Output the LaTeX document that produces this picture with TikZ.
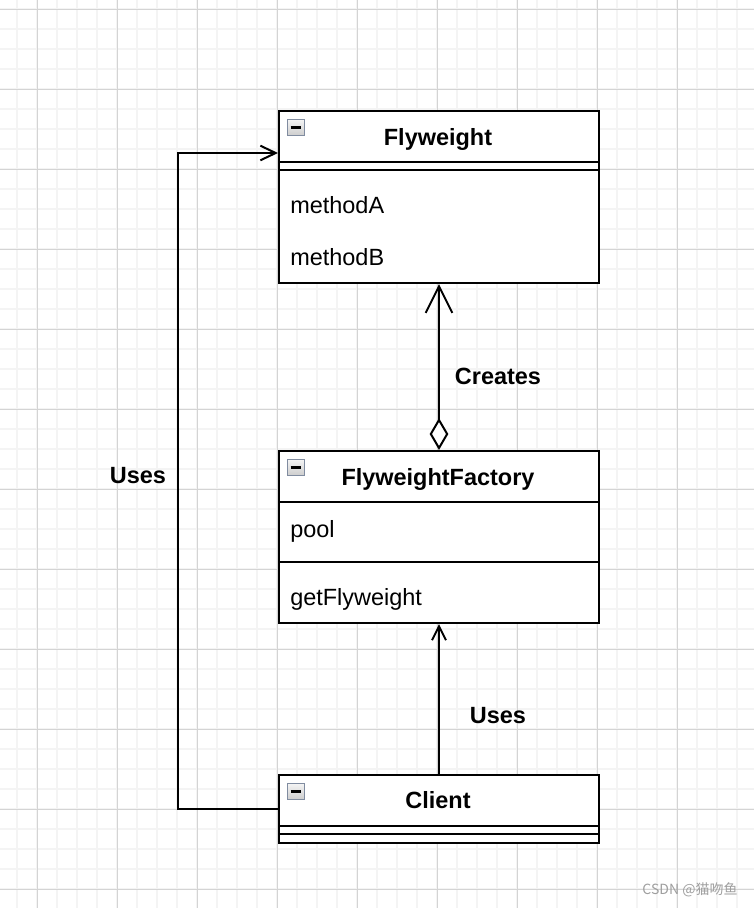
\documentclass[tikz,border=0pt]{standalone}
\usepackage{fontspec}
\setmainfont{Liberation Sans}
\newfontfamily\cjkfont{Noto Sans CJK SC}
\usetikzlibrary{arrows.meta,calc}

\begin{document}
\begin{tikzpicture}[x=0.75pt,y=-0.75pt,
  minorline/.style={draw={rgb,255:red,244;green,244;blue,244},line width=1.1pt},
  majorline/.style={draw={rgb,255:red,212;green,212;blue,212},line width=0.75pt},
  classbox/.style={draw,line width=1.5pt,fill=white,minimum width=240pt,anchor=north west,inner sep=0pt},
  classname/.style={font=\fontsize{17.6}{20}\selectfont\bfseries,anchor=base},
  member/.style={font=\fontsize{17.6}{20}\selectfont,anchor=base west,inner sep=0pt},
  linklabel/.style={font=\fontsize{17.6}{20}\selectfont\bfseries},
  minusicon/.style={draw={rgb,255:red,128;green,140;blue,160},line width=0.9pt,
    top color=gray!8,bottom color=gray!40,minimum size=12.5pt,inner sep=0pt,
    path picture={\draw[line width=1.6pt,black]
      ([xshift=2.2pt]path picture bounding box.west) -- ([xshift=-2.2pt]path picture bounding box.east);}},
  link/.style={line width=1.5pt},
  watermark/.style={font=\cjkfont\fontsize{10.5}{12}\selectfont,text=gray!75}]
  \useasboundingbox (0,0) rectangle (754,908);
  \fill[white] (0,0) rectangle (754,908);
  % grid
  \foreach \x in {17,37,...,754} \draw[minorline] (\x,0) -- (\x,908);
  \foreach \y in {9,29,...,908} \draw[minorline] (0,\y) -- (754,\y);
  \foreach \x in {37,117,...,754} \draw[majorline] (\x,0) -- (\x,908);
  \foreach \y in {9,89,...,908} \draw[majorline] (0,\y) -- (754,\y);

  % classes
  \node[classbox,minimum height=129pt] (fly) at (278,110) {};
  \node[classbox,minimum height=129pt] (factory) at (278,450) {};
  \node[classbox,minimum height=51pt] (client) at (278,774) {};

  \draw[link] ($(fly.north west)+(0,52)$) -- ($(fly.north east)+(0,52)$);
  \draw[link] ($(fly.north west)+(0,60)$) -- ($(fly.north east)+(0,60)$);
  \draw[link] ($(factory.north west)+(0,52)$) -- ($(factory.north east)+(0,52)$);
  \draw[link] ($(factory.north west)+(0,112)$) -- ($(factory.north east)+(0,112)$);
  \draw[link] ($(client.north west)+(0,52)$) -- ($(client.north east)+(0,52)$);
  \draw[link] ($(client.north west)+(0,60)$) -- ($(client.north east)+(0,60)$);

  \node[minusicon] (flyicon) at (296,127.5) {};
  \node[minusicon] (factoryicon) at (296,467.5) {};
  \node[minusicon] (clienticon) at (296,791.5) {};

  \node[classname] (flyname) at (438,145) {Flyweight};
  \node[member] (methodA) at (290,213) {methodA};
  \node[member] (methodB) at (290,265) {methodB};

  \node[classname] (factoryname) at (438,485) {FlyweightFactory};
  \node[member] (pool) at (290,537) {pool};
  \node[member] (getfly) at (290,605) {getFlyweight};

  \node[classname] (clientname) at (438,808) {Client};

  % relations
  \coordinate (flyin) at ($(fly.north west)+(0,43)$);
  \coordinate (bend) at (178,0);
  \draw[link,{Diamond[open,fill=white,length=24pt,width=14pt]}-{Straight Barb[length=20pt,width=20pt]}]
    (factory.north) -- (fly.south);
  \draw[link,-{Straight Barb[length=10.5pt,width=10.5pt]}] (client.north) -- (factory.south);
  \draw[link,-{Straight Barb[length=11.5pt,width=11pt]}] (client.west) -| (bend |- flyin) -- (flyin);

  \node[linklabel] (creates) at (498,376) {Creates};
  \node[linklabel] (usesfactory) at (498,716) {Uses};
  \node[linklabel] (usesfly) at (138,476) {Uses};

  \node[watermark] (mark) at (690,890) {CSDN @猫吻鱼};
\end{tikzpicture}
\end{document}
